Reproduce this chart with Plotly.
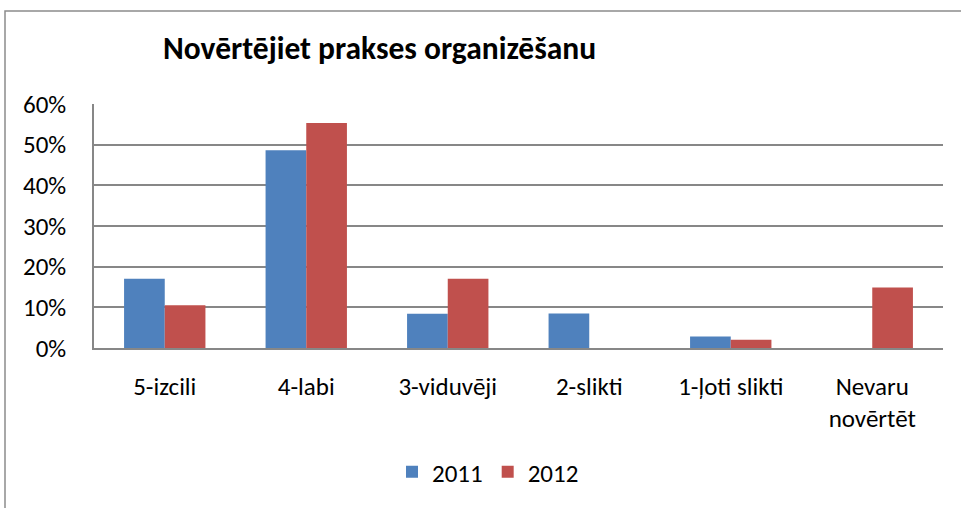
import plotly.graph_objects as go

categories = ["5-izcili", "4-labi", "3-viduvēji", "2-slikti", "1-ļoti slikti", "Nevaru<br>novērtēt"]
series_names = ["2011", "2012"]
values_2011 = [0.170, 0.486, 0.084, 0.085, 0.028, 0.0]
values_2012 = [0.105, 0.553, 0.170, 0.0, 0.020, 0.149]
y_ticks = [0, 0.1, 0.2, 0.3, 0.4, 0.5, 0.6]
y_tick_labels = ["0%", "10%", "20%", "30%", "40%", "50%", "60%"]
colors = ["#4F81BD", "#C0504D"]
title_text = "Novērtējiet prakses organizēšanu"

W, H = 961, 508
L, R, T, B = 94, 943, 104, 348

fig = go.Figure()
for name, vals, col in zip(series_names, [values_2011, values_2012], colors):
    fig.add_trace(go.Bar(x=categories, y=vals, name=name, marker_color=col,
                         marker_line_width=0))

font = "Carlito, Lato, 'Liberation Sans', sans-serif"

def px_to_paper_x(px):
    return (px - L) / (R - L)

def px_to_paper_y(py):
    return (B - py) / (B - T)

fig.update_layout(
    width=W, height=H,
    margin=dict(l=L, r=W - R, t=T, b=H - B, pad=0),
    paper_bgcolor="white", plot_bgcolor="white",
    barmode="group", bargap=0.425, bargroupgap=0,
    font=dict(family=font, size=25, color="#000000"),
    title=dict(text="<b>" + title_text + "</b>", x=163 / W, xanchor="left",
               y=1 - 48 / H, yanchor="middle", xref="container", yref="container",
               font=dict(family=font, size=31.5, color="#000000")),
    legend=dict(orientation="h", x=488 / W, xanchor="center", y=1 - 472 / H,
                yanchor="middle", xref="container", yref="container",
                font=dict(family=font, size=25), itemwidth=30),
    showlegend=True,
    shapes=[dict(type="rect", xref="paper", yref="paper",
                 x0=px_to_paper_x(5), x1=px_to_paper_x(965),
                 y0=px_to_paper_y(512), y1=px_to_paper_y(11),
                 line=dict(color="#8C8C8C", width=1.5), fillcolor="rgba(0,0,0,0)",
                 layer="below")],
)
fig.update_yaxes(range=[0, 0.6], tickvals=y_ticks, ticktext=y_tick_labels,
                 showgrid=True, gridcolor="#878787", gridwidth=1.5,
                 showline=True, linecolor="#878787", linewidth=1.5,
                 zeroline=False, ticks="", ticklabelstandoff=21,
                 tickfont=dict(family=font, size=25))
fig.update_xaxes(showline=True, linecolor="#878787", linewidth=1.5,
                 ticks="", ticklabelstandoff=15, tickangle=0,
                 tickfont=dict(family=font, size=25))

fig.write_html("out.html", config={"displayModeBar": False},
               post_script="document.body.style.margin='0';document.body.style.overflow='hidden';")
